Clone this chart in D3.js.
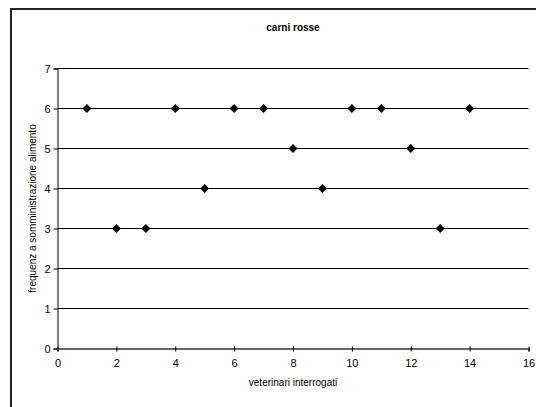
<!DOCTYPE html>
<html>
<head>
<meta charset="utf-8">
<script src="https://cdn.jsdelivr.net/npm/d3@7"></script>
<style>
  html, body { margin: 0; padding: 0; background: #fff; }
  svg { display: block; font-family: "Liberation Sans", Arial, sans-serif; }
</style>
</head>
<body>
<svg id="chart" width="536" height="407"></svg>
<script>
// Respondents (x) and how often red meat is given (y)
const veterinari = [1, 2, 3, 4, 5, 6, 7, 8, 9, 10, 11, 12, 13, 14];
const frequenza  = [6, 3, 3, 6, 4, 6, 6, 5, 4, 6, 6, 5, 3, 6];
const xTicks = [0, 2, 4, 6, 8, 10, 12, 14, 16];
const yTicks = [0, 1, 2, 3, 4, 5, 6, 7];

const titolo = "carni rosse";
const xTitolo = "veterinari interrogati";
const yTitolo = "frequenz a somministrazione alimento";

const svg = d3.select("#chart");
const W = 536, H = 407;
const plot = { left: 57.5, right: 528.5, top: 68.5, bottom: 348.5 };

// Outer frame (runs off the right and bottom edges)
svg.append("rect")
  .attr("x", 11).attr("y", 9)
  .attr("width", W + 10).attr("height", H + 10)
  .attr("fill", "#fff").attr("stroke", "#222").attr("stroke-width", 2);

const x = d3.scaleLinear().domain([0, 16]).range([plot.left, plot.right]);
const y = d3.scaleLinear().domain([0, 7]).range([plot.bottom, plot.top]);

// Horizontal gridlines
svg.append("g")
  .selectAll("line")
  .data(yTicks.filter(v => v > 0))
  .join("line")
  .attr("x1", plot.left).attr("x2", plot.right)
  .attr("y1", d => y(d)).attr("y2", d => y(d))
  .attr("stroke", "#000").attr("stroke-width", 1);

// Y axis
const yAxis = svg.append("g")
  .attr("transform", `translate(${plot.left},0)`)
  .call(d3.axisLeft(y).tickValues(yTicks).tickSize(4).tickPadding(3).tickFormat(d3.format("d")));
yAxis.select(".domain").attr("stroke", "#000");
yAxis.selectAll(".tick line").attr("stroke", "#000");
yAxis.selectAll("text").attr("font-size", 11).attr("fill", "#000")
  .attr("font-family", "Liberation Sans, Arial, sans-serif");

// X axis
const xAxis = svg.append("g")
  .attr("transform", `translate(0,${plot.bottom})`)
  .call(d3.axisBottom(x).tickValues(xTicks).tickSize(3).tickPadding(8).tickFormat(d3.format("d")));
xAxis.select(".domain").attr("stroke", "#666").attr("stroke-width", 2);
xAxis.selectAll(".tick line").attr("y1", -2).attr("stroke", "#000");
xAxis.selectAll("text").attr("font-size", 11).attr("fill", "#000")
  .attr("font-family", "Liberation Sans, Arial, sans-serif");

// Diamond markers
const diamond = d3.symbol().type(d3.symbolDiamond2).size(52);
svg.append("g")
  .selectAll("path")
  .data(veterinari.map((v, i) => [v, frequenza[i]]))
  .join("path")
  .attr("d", diamond)
  .attr("transform", d => `translate(${x(d[0])},${y(d[1])})`)
  .attr("fill", "#000");

// Titles
svg.append("text")
  .attr("x", (plot.left + plot.right) / 2).attr("y", 31)
  .attr("text-anchor", "middle").attr("font-size", 10).attr("font-weight", "bold")
  .text(titolo);

svg.append("text")
  .attr("x", (plot.left + plot.right) / 2).attr("y", 386)
  .attr("text-anchor", "middle").attr("font-size", 10)
  .text(xTitolo);

svg.append("text")
  .attr("transform", `translate(36,${(plot.top + plot.bottom) / 2}) rotate(-90)`)
  .attr("text-anchor", "middle").attr("font-size", 10)
  .text(yTitolo);
</script>
</body>
</html>
